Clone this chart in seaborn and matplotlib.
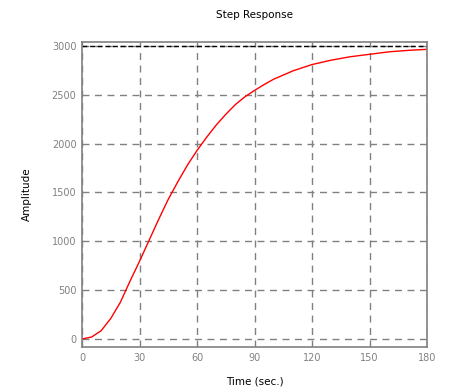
import matplotlib
matplotlib.use("Agg")
import matplotlib.pyplot as plt
import seaborn as sns
import pandas as pd

# Step response samples
time_sec = [0, 5, 10, 15, 20, 25, 30, 35, 40, 45, 50, 55, 60, 65, 70, 75,
            80, 85, 90, 95, 100, 110, 120, 130, 140, 150, 160, 170, 180]
amplitude = [0, 20, 85, 210, 375, 590, 795, 1010, 1225, 1430, 1610, 1780,
             1930, 2065, 2190, 2300, 2400, 2480, 2545, 2605, 2660, 2745,
             2810, 2855, 2890, 2915, 2940, 2955, 2966]
steady_state = 3000
x_ticks = [0, 30, 60, 90, 120, 150, 180]
y_ticks = [0, 500, 1000, 1500, 2000, 2500, 3000]

sns.set_style("white")
plt.rcParams["font.family"] = ["DejaVu Sans"]

df = pd.DataFrame({"t": time_sec, "y": amplitude})

fig = plt.figure(figsize=(4.67, 3.91), dpi=100)
ax = fig.add_axes([82 / 467, 44 / 391, 345 / 467, 305.3 / 391])

sns.lineplot(data=df, x="t", y="y", color="red", linewidth=1.0, ax=ax)
ax.plot([x_ticks[0], x_ticks[-1]], [steady_state, steady_state],
        color="black", linestyle=(0, (3.5, 2)), linewidth=1.0)

ax.set_xlim(0, 180)
ax.set_ylim(-82, 3044)
ax.set_xticks(x_ticks)
ax.set_yticks(y_ticks)

grey = "#808080"
ax.grid(True, color=grey, linestyle=(0, (5, 4)), linewidth=1.0)
for s in ax.spines.values():
    s.set_color(grey)
    s.set_linewidth(1.2)
ax.tick_params(length=0, labelsize=7, colors=grey, pad=4)

ax.set_xlabel("Time (sec.)", fontsize=7.5, color="black")
ax.set_ylabel("Amplitude", fontsize=7.5, color="black")
ax.xaxis.set_label_coords(0.5, -0.098)
ax.yaxis.set_label_coords(-0.145, 0.5)
ax.set_title("Step Response", fontsize=7.5, color="black", pad=17)

plt.savefig("out.png", dpi=100)
